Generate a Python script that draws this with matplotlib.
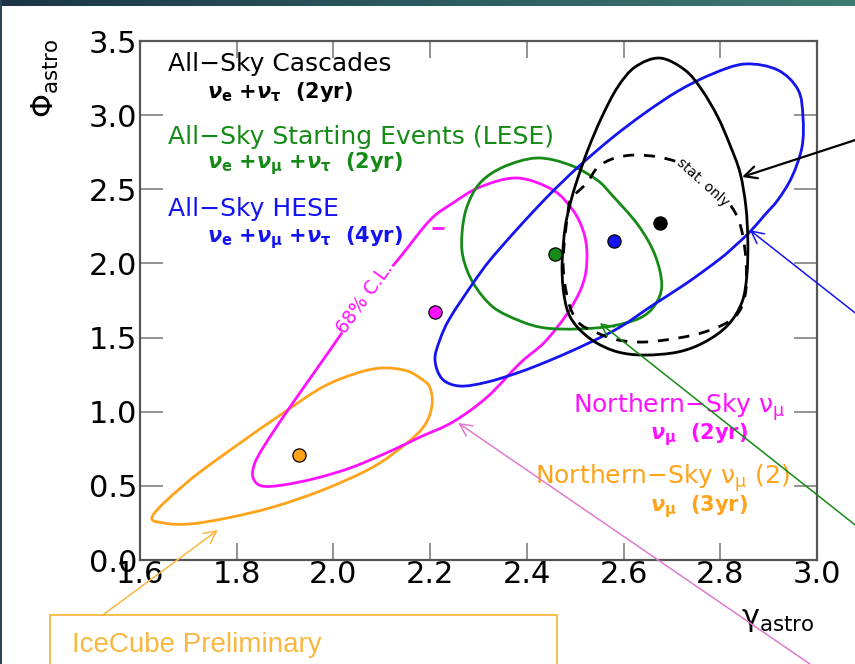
import numpy as np
import matplotlib
matplotlib.use("Agg")
import matplotlib.pyplot as plt
from matplotlib.path import Path
from matplotlib.patches import PathPatch, Rectangle
from matplotlib.colors import LinearSegmentedColormap

plt.rcParams['font.family'] = ['DejaVu Sans']
plt.rcParams['mathtext.fontset'] = 'custom'
plt.rcParams['mathtext.rm'] = 'DejaVu Sans'
plt.rcParams['mathtext.it'] = 'DejaVu Sans:italic'
plt.rcParams['mathtext.bf'] = 'DejaVu Sans:bold'
plt.rcParams['mathtext.bfit'] = 'DejaVu Sans:italic:bold'

# ---- 68% C.L. contours in (gamma_astro, Phi_astro) ----
cascade_gamma = [2.675, 2.727, 2.762, 2.795, 2.820, 2.841, 2.853, 2.857, 2.855, 2.845,
                 2.816, 2.768, 2.713, 2.644, 2.588, 2.541, 2.506, 2.485, 2.475, 2.473,
                 2.479, 2.489, 2.502, 2.526, 2.555, 2.588, 2.624]
cascade_phi = [3.385, 3.304, 3.170, 2.987, 2.799, 2.610, 2.381, 2.144, 1.922, 1.740,
               1.585, 1.470, 1.403, 1.382, 1.403, 1.470, 1.565, 1.672, 1.834, 2.010,
               2.239, 2.394, 2.542, 2.765, 2.987, 3.190, 3.325]

cascade_stat_gamma = [2.485, 2.493, 2.524, 2.547, 2.582, 2.624, 2.671, 2.717, 2.758, 2.799,
                      2.830, 2.845, 2.853, 2.853, 2.841, 2.816, 2.768, 2.713, 2.644, 2.588,
                      2.541, 2.506, 2.485, 2.475]
cascade_stat_phi = [2.347, 2.441, 2.542, 2.650, 2.711, 2.731, 2.718, 2.677, 2.596, 2.482,
                    2.347, 2.212, 2.023, 1.821, 1.686, 1.605, 1.538, 1.497, 1.470, 1.484,
                    1.538, 1.605, 1.753, 2.010]

hese_gamma = [2.851, 2.919, 2.961, 2.971, 2.969, 2.948, 2.919, 2.892, 2.861, 2.830,
              2.799, 2.731, 2.661, 2.593, 2.524, 2.454, 2.386, 2.318, 2.262, 2.225,
              2.210, 2.220, 2.241, 2.289, 2.324, 2.382, 2.444, 2.506, 2.576, 2.644,
              2.713, 2.783]
hese_phi = [3.345, 3.304, 3.170, 2.987, 2.785, 2.583, 2.428, 2.327, 2.212, 2.117,
            2.030, 1.868, 1.720, 1.571, 1.457, 1.355, 1.268, 1.200, 1.173, 1.221,
            1.349, 1.484, 1.632, 1.868, 2.023, 2.239, 2.455, 2.650, 2.846, 3.014,
            3.163, 3.277]

lese_gamma = [2.421, 2.489, 2.545, 2.576, 2.630, 2.665, 2.679, 2.665, 2.634, 2.576,
              2.506, 2.437, 2.386, 2.330, 2.289, 2.268, 2.266, 2.276, 2.303, 2.351]
lese_phi = [2.711, 2.664, 2.563, 2.461, 2.259, 2.057, 1.854, 1.720, 1.632, 1.578,
            1.558, 1.565, 1.612, 1.706, 1.868, 2.043, 2.205, 2.381, 2.542, 2.650]

numu2_gamma = [2.380, 2.454, 2.495, 2.516, 2.524, 2.522, 2.510, 2.483, 2.437, 2.386,
               2.318, 2.247, 2.179, 2.123, 2.040, 1.966, 1.896, 1.852, 1.834, 1.836,
               1.854, 1.896, 1.945, 1.993, 2.065, 2.138, 2.200, 2.247, 2.303]
numu2_phi = [2.576, 2.495, 2.360, 2.225, 2.091, 1.942, 1.814, 1.659, 1.470, 1.328,
             1.099, 0.931, 0.829, 0.742, 0.627, 0.553, 0.506, 0.499, 0.553, 0.641,
             0.755, 0.964, 1.194, 1.416, 1.753, 2.043, 2.293, 2.407, 2.515]

numu3_gamma = [1.627, 1.648, 1.703, 1.780, 1.875, 1.978, 2.082, 2.152, 2.189, 2.204,
               2.200, 2.185, 2.152, 2.102, 2.049, 1.978, 1.896, 1.807, 1.703]
numu3_phi = [0.303, 0.250, 0.243, 0.283, 0.357, 0.472, 0.627, 0.789, 0.910, 1.045,
             1.160, 1.214, 1.275, 1.295, 1.261, 1.167, 0.991, 0.789, 0.539]

# ---- best-fit points ----
best_names = ["cascades", "hese", "lese", "numu2", "numu3"]
best_gamma = [2.675, 2.580, 2.458, 2.210, 1.929]
best_phi = [2.273, 2.151, 2.064, 1.672, 0.708]

x_ticks = [1.6, 1.8, 2.0, 2.2, 2.4, 2.6, 2.8, 3.0]
y_ticks = [0.0, 0.5, 1.0, 1.5, 2.0, 2.5, 3.0, 3.5]

BLACK = "black"
BLUE = "#1414f0"
GREEN = "#168a16"
MAGENTA = "#ff10ff"
ORANGE = "#ffa31a"
ORCHID = "#e07ad0"
BOX = "#f9b73f"


def closed_curve(xs, ys):
    """Closed smooth path through the given vertices (Catmull-Rom as cubic Beziers)."""
    p = np.column_stack([xs, ys]).astype(float)
    n = len(p)
    verts = [p[0]]
    codes = [Path.MOVETO]
    for i in range(n):
        p0, p1, p2, p3 = p[i - 1], p[i], p[(i + 1) % n], p[(i + 2) % n]
        verts += [p1 + (p2 - p0) / 6.0, p2 - (p3 - p1) / 6.0, p2]
        codes += [Path.CURVE4] * 3
    return Path(verts, codes)


W, H = 855, 664
fig = plt.figure(figsize=(W / 100, H / 100), dpi=100)
fig.patch.set_facecolor("white")

# slide frame: gradient strip on top and thin dark strip on the left
bar = fig.add_axes([0, 1 - 6 / H, 1, 6 / H])
grad = np.linspace(0, 1, 256)[None, :]
cm = LinearSegmentedColormap.from_list("bar", ["#1b3546", "#2c5a60", "#3f7b72"])
bar.imshow(grad, aspect="auto", cmap=cm, extent=[0, 1, 0, 1])
bar.set_axis_off()
fig.add_artist(Rectangle((0, 0), 2 / W, 1, transform=fig.transFigure,
                         color="#27465a", lw=0))

ax = fig.add_axes([140 / W, (H - 560) / H, 677 / W, 519 / H])
ax.set_xlim(1.6, 3.0)
ax.set_ylim(0, 3.5)

lw = 2.0
ax.add_patch(PathPatch(closed_curve(numu3_gamma, numu3_phi), fill=False,
                       ec=ORANGE, lw=lw, zorder=2))
ax.add_patch(PathPatch(closed_curve(numu2_gamma, numu2_phi), fill=False,
                       ec=MAGENTA, lw=lw, zorder=2))
ax.add_patch(PathPatch(closed_curve(lese_gamma, lese_phi), fill=False,
                       ec=GREEN, lw=lw, zorder=2))
ax.add_patch(PathPatch(closed_curve(hese_gamma, hese_phi), fill=False,
                       ec=BLUE, lw=lw, zorder=2))
ax.add_patch(PathPatch(closed_curve(cascade_stat_gamma, cascade_stat_phi), fill=False,
                       ec=BLACK, lw=lw, ls=(0, (4, 3.5)), zorder=2))
ax.add_patch(PathPatch(closed_curve(cascade_gamma, cascade_phi), fill=False,
                       ec=BLACK, lw=lw, zorder=4))

ax.text(2.764, 2.545, "stat. only", rotation=-42, fontsize=10, ha="center",
        va="center", color="black", zorder=3,
        bbox=dict(fc="white", ec="none", pad=0.5))
ax.text(2.066, 1.767, "68% C.L.", rotation=54, fontsize=13.5, ha="center",
        va="center", color=MAGENTA, zorder=3,
        bbox=dict(fc="white", ec="none", pad=0.2))
ax.plot([2.216], [2.239], marker="_", ms=8, mew=2, color=MAGENTA, zorder=3)

point_colors = [BLACK, BLUE, GREEN, MAGENTA, ORANGE]
for g, p, c in zip(best_gamma, best_phi, point_colors):
    ax.plot(g, p, "o", ms=9.5, mfc=c, mec="black", mew=0.9, zorder=6)

# arrows pointing from the labels at the edge of the slide to the contours
arrow_specs = [
    ((2.845, 2.583), (3.079, 2.832), BLACK, 1.6),
    ((2.861, 2.225), (3.079, 1.666), BLUE, 1.1),
    ((2.551, 1.598), (3.079, 0.236), GREEN, 1.1),
    ((2.258, 0.924), (2.985, -0.701), ORCHID, 1.1),
    ((1.761, 0.202), (1.523, -0.371), BOX, 1.1),
]
for head, tail, c, w in arrow_specs:
    ax.annotate("", xy=head, xytext=tail, xycoords="data", textcoords="data",
                annotation_clip=False,
                arrowprops=dict(arrowstyle="->", color=c, lw=w,
                                mutation_scale=22, shrinkA=0, shrinkB=0),
                zorder=5)

# text labels
TITLE = 18
SUB = 15
ax.text(0.041, 0.956, "All\u2212Sky Cascades", transform=ax.transAxes,
        fontsize=TITLE, color=BLACK, va="center", ha="left")
ax.text(0.099, 0.902, r"$\mathbfit{\nu}_{\mathbf{e}}\ \mathbf{+}\mathbfit{\nu}_{\mathbf{\tau}}$  (2yr)",
        transform=ax.transAxes, fontsize=SUB, fontweight="bold", color=BLACK,
        va="center", ha="left")
ax.text(0.041, 0.815, "All\u2212Sky Starting Events (LESE)", transform=ax.transAxes,
        fontsize=TITLE, color=GREEN, va="center", ha="left")
ax.text(0.099, 0.763,
        r"$\mathbfit{\nu}_{\mathbf{e}}\ \mathbf{+}\mathbfit{\nu}_{\mathbf{\mu}}\ \mathbf{+}\mathbfit{\nu}_{\mathbf{\tau}}$  (2yr)",
        transform=ax.transAxes, fontsize=SUB, fontweight="bold", color=GREEN,
        va="center", ha="left")
ax.text(0.041, 0.676, "All\u2212Sky HESE", transform=ax.transAxes,
        fontsize=TITLE, color=BLUE, va="center", ha="left")
ax.text(0.099, 0.622,
        r"$\mathbfit{\nu}_{\mathbf{e}}\ \mathbf{+}\mathbfit{\nu}_{\mathbf{\mu}}\ \mathbf{+}\mathbfit{\nu}_{\mathbf{\tau}}$  (4yr)",
        transform=ax.transAxes, fontsize=SUB, fontweight="bold", color=BLUE,
        va="center", ha="left")
ax.text(0.953, 0.295, "Northern\u2212Sky \u03bd$_{\\mathrm{\\mu}}$", transform=ax.transAxes,
        fontsize=TITLE, color=MAGENTA, va="center", ha="right")
ax.text(0.898, 0.241, r"$\mathbfit{\nu}_{\mathbf{\mu}}$  (2yr)", transform=ax.transAxes,
        fontsize=SUB, fontweight="bold", color=MAGENTA, va="center", ha="right")
ax.text(0.960, 0.158, "Northern\u2212Sky \u03bd$_{\\mathrm{\\mu}}$ (2)", transform=ax.transAxes,
        fontsize=TITLE, color=ORANGE, va="center", ha="right")
ax.text(0.898, 0.102, r"$\mathbfit{\nu}_{\mathbf{\mu}}$  (3yr)", transform=ax.transAxes,
        fontsize=SUB, fontweight="bold", color=ORANGE, va="center", ha="right")

# axes styling
ax.set_xticks(x_ticks)
ax.set_yticks(y_ticks)
ax.set_xticklabels([f"{v:.1f}" for v in x_ticks])
ax.set_yticklabels([f"{v:.1f}" for v in y_ticks])
ax.tick_params(axis="both", direction="in", colors="#808080", width=1.2,
               labelcolor="black", labelsize=22, top=True, right=True)
ax.tick_params(axis="y", length=16.5, pad=2)
ax.tick_params(axis="x", length=12.5, pad=0)
for s in ax.spines.values():
    s.set_color("#555555")
    s.set_linewidth(1.6)

ax.text(-0.140, 0.929, r"$\Phi_{\mathrm{astro}}$", transform=ax.transAxes,
        rotation=90, fontsize=22, va="center", ha="center")
ax.text(0.997, -0.1156, r"$\mathrm{\gamma}_{\mathrm{astro}}$", transform=ax.transAxes,
        fontsize=22, va="center", ha="right")

# preliminary label box
fig.add_artist(Rectangle((50 / W, -0.05), 507 / W, 0.05 + 49 / H,
                         transform=fig.transFigure, fill=False, ec=BOX, lw=1.3))
fig.text(72 / W, 19 / H, "IceCube Preliminary", fontsize=20,
         family="Liberation Sans", color=BOX, va="center", ha="left")

fig.savefig("out.png", dpi=100)
